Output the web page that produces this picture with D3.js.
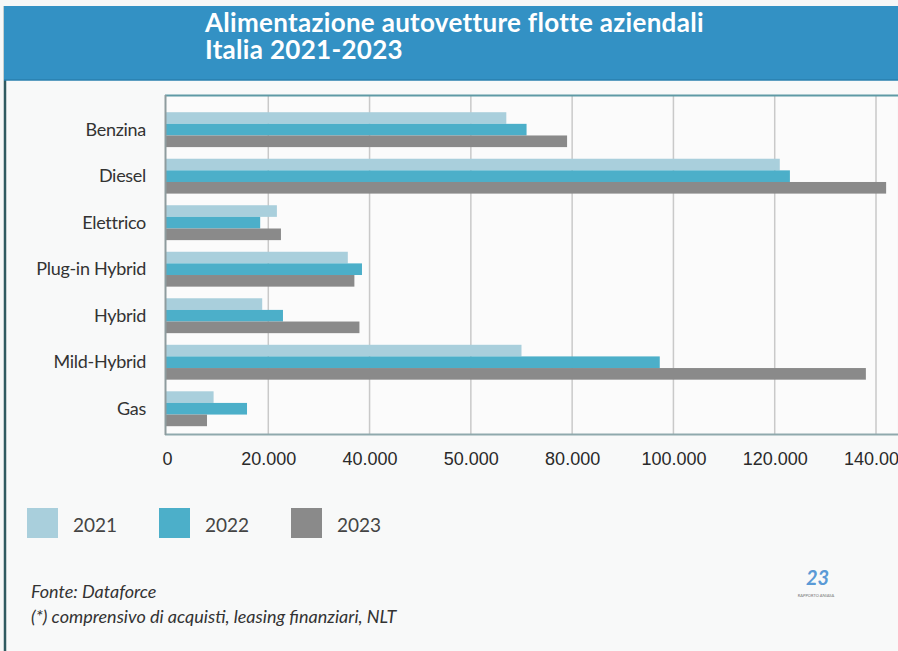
<!DOCTYPE html>
<html>
<head>
<meta charset="utf-8">
<script src="https://cdn.jsdelivr.net/npm/d3@7"></script>
<style>
  html, body { margin: 0; padding: 0; background: #f6f7f7; }
  svg { display: block; }
</style>
</head>
<body>
<script>
var width  = 898,
    height = 651;

// Categories (top to bottom)
var categories = ['Benzina', 'Diesel', 'Elettrico', 'Plug-in Hybrid', 'Hybrid', 'Mild-Hybrid', 'Gas'];

// Series values
var years   = ['2021', '2022', '2023'];
var val2021 = [67000, 121000, 21700, 35700, 18800, 70000, 9200];
var val2022 = [71000, 123000, 18400, 38500, 22900, 97300, 15800];
var val2023 = [79000, 142000, 22500, 37000, 38000, 138000, 7900];

// Tick values and labels as printed
var tickValues = [0, 20000, 40000, 60000, 80000, 100000, 120000, 140000];
var tickLabels = ['0', '20.000', '40.000', '50.000', '80.000', '100.000', '120.000', '140.000'];

var colors = { '2021': '#a9cfdc', '2022': '#4cafc9', '2023': '#8a8a8a' };

// rows built from arrays
var rows = categories.map(function(c, i) {
    return { cat: c, values: [
        { year: '2021', v: val2021[i] },
        { year: '2022', v: val2022[i] },
        { year: '2023', v: val2023[i] }
    ]};
});

var svg = d3.select('body').append('svg')
    .attr('width', width)
    .attr('height', height);

// Frame + header
svg.append('rect')
    .attr('x', 5).attr('y', 6).attr('width', width - 5).attr('height', height - 6)
    .style('fill', '#f8f9f9');
svg.append('line')
    .attr('x1', 5).attr('x2', 5).attr('y1', 6).attr('y2', height)
    .style('stroke', '#2f5a60').style('stroke-width', 2.5);
svg.append('rect')
    .attr('x', 4).attr('y', 6).attr('width', width - 4).attr('height', 74)
    .style('fill', '#3391c4');
svg.append('line')
    .attr('x1', 4).attr('x2', width).attr('y1', 80).attr('y2', 80)
    .style('stroke', '#2a7fae').style('stroke-width', 1.5);

// Title, two lines
var titleLines = ['Alimentazione autovetture flotte aziendali', 'Italia 2021-2023'];
svg.selectAll('.title')
    .data(titleLines)
    .enter().append('text')
    .attr('class', 'title')
    .attr('x', 205)
    .attr('y', function(d, i) { return 32 + i * 27; })
    .style('font-family', 'Lato, sans-serif')
    .style('font-weight', 'bold')
    .style('font-size', '26px')
    .style('letter-spacing', '0.3px')
    .style('fill', '#ffffff')
    .text(function(d) { return d; });

// Scales
var xScale = d3.scaleLinear().domain([0, 140000]).range([167, 876]);

var yScale = d3.scaleBand()
    .domain(categories)
    .range([106.4, 432])
    .paddingInner(0.25)
    .paddingOuter(0.125);

var subScale = d3.scaleBand()
    .domain(years)
    .range([0, yScale.bandwidth()])
    .padding(0);

// Plot area
svg.append('rect')
    .attr('x', 165).attr('y', 95).attr('width', width - 166).attr('height', 340)
    .style('fill', '#fbfbfb');

// Gridlines
svg.selectAll('.grid')
    .data(tickValues.slice(1))
    .enter().append('line')
    .attr('class', 'grid')
    .attr('x1', function(d) { return xScale(d); })
    .attr('x2', function(d) { return xScale(d); })
    .attr('y1', 96).attr('y2', 434)
    .style('stroke', '#c9c9c9')
    .style('stroke-width', 1.5);

// Bars
var groups = svg.selectAll('.group')
    .data(rows)
    .enter().append('g')
    .attr('class', 'group')
    .attr('transform', function(d) { return 'translate(0,' + yScale(d.cat) + ')'; });

groups.selectAll('rect')
    .data(function(d) { return d.values; })
    .enter().append('rect')
    .attr('x', xScale(0) - 1)
    .attr('y', function(d) { return subScale(d.year); })
    .attr('width', function(d) { return xScale(d.v) - xScale(0) + 1; })
    .attr('height', subScale.bandwidth())
    .style('fill', function(d) { return colors[d.year]; });

// Plot border
svg.append('line')
    .attr('x1', 165).attr('x2', width).attr('y1', 95.5).attr('y2', 95.5)
    .style('stroke', '#5e9aa5').style('stroke-width', 2);
svg.append('line')
    .attr('x1', 165).attr('x2', width).attr('y1', 434.5).attr('y2', 434.5)
    .style('stroke', '#8fa9ad').style('stroke-width', 2);
svg.append('line')
    .attr('x1', 165.5).attr('x2', 165.5).attr('y1', 95).attr('y2', 435)
    .style('stroke', '#8e9c9e').style('stroke-width', 2);

// Category labels
svg.selectAll('.cat')
    .data(categories)
    .enter().append('text')
    .attr('class', 'cat')
    .attr('x', 146)
    .attr('y', function(d) { return yScale(d) + yScale.bandwidth() / 2 + 6; })
    .attr('text-anchor', 'end')
    .style('font-family', 'Lato, sans-serif')
    .style('font-size', '18px')
    .style('letter-spacing', '-0.3px')
    .style('fill', '#333')
    .text(function(d) { return d; });

// X axis
var xAxis = d3.axisBottom(xScale)
    .tickValues(tickValues)
    .tickSize(0)
    .tickPadding(0)
    .tickFormat(function(d, i) { return tickLabels[i]; });

var axisG = svg.append('g')
    .attr('transform', 'translate(0,452)')
    .call(xAxis);
axisG.select('.domain').remove();
axisG.selectAll('text')
    .attr('dy', '0.71em')
    .style('font-family', '"Liberation Sans Narrow", "Liberation Sans", sans-serif')
    .style('font-size', '18px')
    .style('fill', '#2a2a2a');

// Legend
var legendX = [27, 159, 291];
var legend = svg.selectAll('.legend')
    .data(years)
    .enter().append('g')
    .attr('class', 'legend')
    .attr('transform', function(d, i) { return 'translate(' + legendX[i] + ',508)'; });
legend.append('rect')
    .attr('width', 31).attr('height', 30)
    .style('fill', function(d) { return colors[d]; });
legend.append('text')
    .attr('x', 46).attr('y', 24)
    .style('font-family', 'Lato, sans-serif')
    .style('font-size', '19px')
    .style('fill', '#444')
    .text(function(d) { return d; });

// Footer notes
var notes = ['Fonte: Dataforce', '(*) comprensivo di acquisti, leasing finanziari, NLT'];
svg.selectAll('.note')
    .data(notes)
    .enter().append('text')
    .attr('class', 'note')
    .attr('x', 31)
    .attr('y', function(d, i) { return 598 + i * 25; })
    .style('font-family', 'Lato, sans-serif')
    .style('font-style', 'italic')
    .style('font-size', '18px')
    .style('fill', '#333')
    .text(function(d) { return d; });

// Small logo
svg.append('text')
    .attr('x', 806).attr('y', 585)
    .style('font-family', 'Lato, sans-serif')
    .style('font-weight', 'bold')
    .style('font-style', 'italic')
    .style('font-size', '20px')
    .style('fill', '#5a9ad6')
    .text('23');
svg.append('text')
    .attr('x', 816).attr('y', 597)
    .attr('text-anchor', 'middle')
    .style('font-family', 'Lato, sans-serif')
    .style('font-size', '4px')
    .style('fill', '#777')
    .text('RAPPORTO ANIASA');
</script>
</body>
</html>
